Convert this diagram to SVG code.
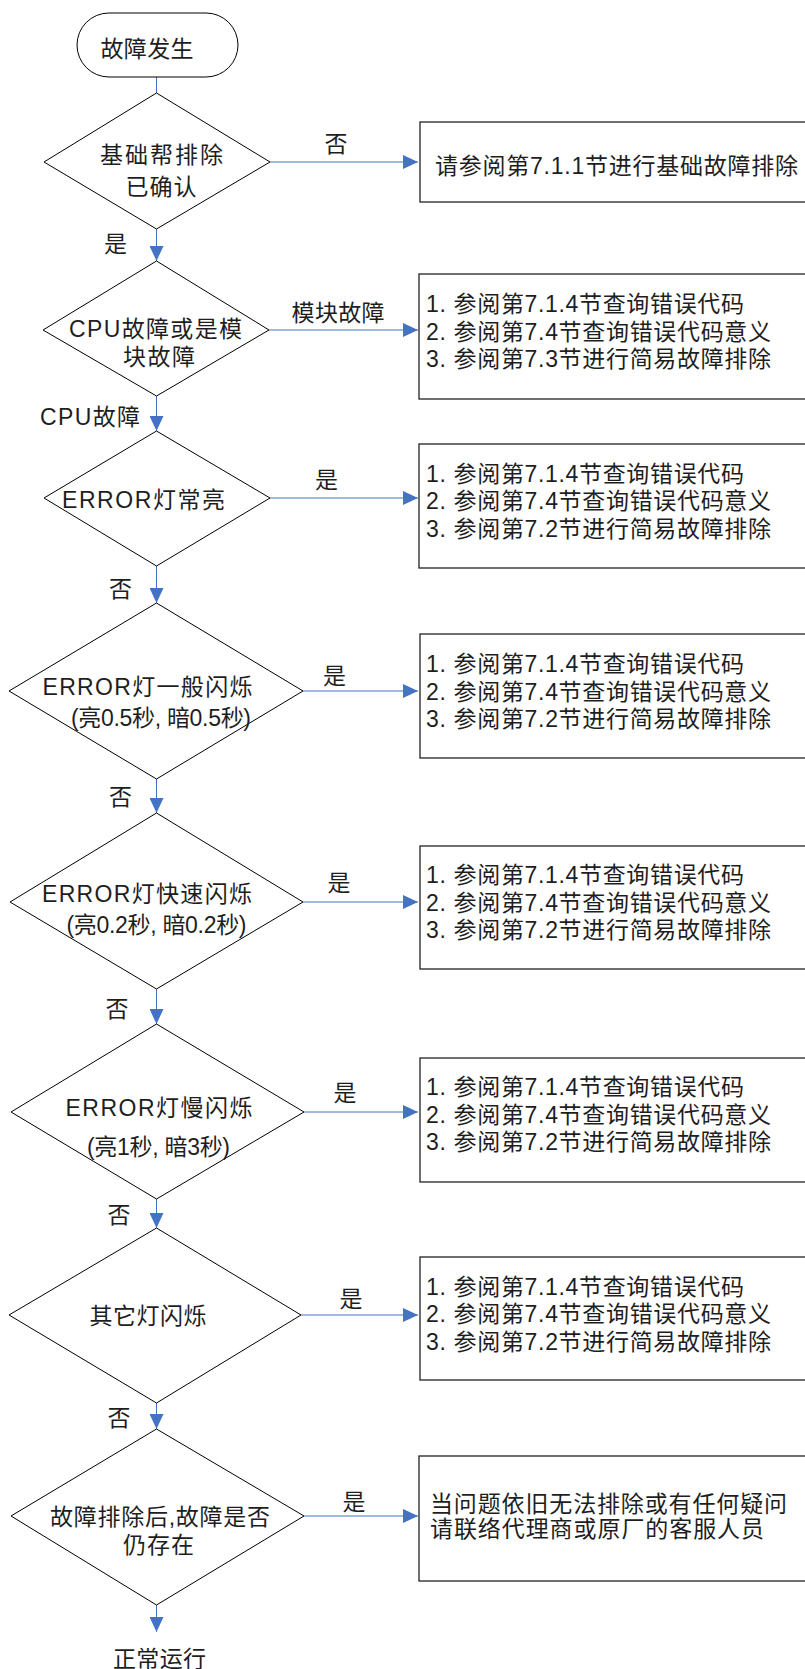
<svg xmlns="http://www.w3.org/2000/svg" width="805" height="1669" viewBox="0 0 805 1669">
<style>
text{font-family:"Liberation Sans","Noto Sans CJK SC",sans-serif;font-size:23px;fill:#1e1e1e}
.c{text-anchor:middle}
.d{fill:#fff;stroke:#000;stroke-width:1}
.b{fill:#fff;stroke:#222;stroke-width:1.3}
.ln{stroke:#4472C4;stroke-width:1;fill:none}
</style>
<defs>
<marker id="ah" viewBox="0 0 15 14" refX="15" refY="7" markerWidth="15" markerHeight="14" markerUnits="userSpaceOnUse" orient="auto">
<path d="M0,0 L15,7 L0,14 z" fill="#4472C4"/>
</marker>
</defs>
<g id="connectors">
<path class="ln" d="M156.5,77 V93"/>
<path class="ln" d="M156.5,229 V261" marker-end="url(#ah)"/>
<path class="ln" d="M156.5,396 V431" marker-end="url(#ah)"/>
<path class="ln" d="M156.5,566 V603" marker-end="url(#ah)"/>
<path class="ln" d="M156.5,779 V813" marker-end="url(#ah)"/>
<path class="ln" d="M156.5,989 V1024" marker-end="url(#ah)"/>
<path class="ln" d="M156.5,1199 V1228" marker-end="url(#ah)"/>
<path class="ln" d="M156.5,1403 V1429" marker-end="url(#ah)"/>
<path class="ln" d="M156.5,1605 V1632" marker-end="url(#ah)"/>
<path class="ln" d="M270,162 H418" marker-end="url(#ah)"/>
<path class="ln" d="M269,330 H418" marker-end="url(#ah)"/>
<path class="ln" d="M270,498 H418" marker-end="url(#ah)"/>
<path class="ln" d="M303,691 H418" marker-end="url(#ah)"/>
<path class="ln" d="M303,902 H418" marker-end="url(#ah)"/>
<path class="ln" d="M304,1112 H418" marker-end="url(#ah)"/>
<path class="ln" d="M301,1315 H418" marker-end="url(#ah)"/>
<path class="ln" d="M304,1516 H418" marker-end="url(#ah)"/>
<text class="c" x="336" y="151.5">否</text>
<text class="c" x="115.5" y="251.5">是</text>
<text x="291.6" y="321" textLength="93" lengthAdjust="spacing">模块故障</text>
<text x="40" y="425" textLength="100" lengthAdjust="spacing">CPU故障</text>
<text class="c" x="326.5" y="488">是</text>
<text class="c" x="120.5" y="597">否</text>
<text class="c" x="334.5" y="684">是</text>
<text class="c" x="120.5" y="805">否</text>
<text class="c" x="339" y="891">是</text>
<text class="c" x="117" y="1017">否</text>
<text class="c" x="345" y="1101">是</text>
<text class="c" x="119" y="1223">否</text>
<text class="c" x="351" y="1307">是</text>
<text class="c" x="119" y="1426">否</text>
<text class="c" x="354" y="1510">是</text>
</g>
<g id="start">
<rect x="77" y="13" width="161" height="64" rx="32" ry="32" class="d"/>
<text x="100.5" y="56.5" textLength="93" lengthAdjust="spacing">故障发生</text>
</g>
<g id="d1">
<polygon class="d" points="156.5,93 270,162 156.5,229 44,162"/>
<text x="100" y="163" textLength="123" lengthAdjust="spacing">基础帮排除</text>
<text x="125.5" y="194.5" textLength="71" lengthAdjust="spacing">已确认</text>
</g>
<g id="b1">
<rect class="b" x="420" y="122" width="390" height="80"/>
<text x="435" y="174" textLength="363" lengthAdjust="spacing">请参阅第7.1.1节进行基础故障排除</text>
</g>
<g id="d2">
<polygon class="d" points="156.5,261 269,330 156.5,396 43,330"/>
<text x="69" y="337" textLength="173" lengthAdjust="spacing">CPU故障或是模</text>
<text x="123" y="365" textLength="72" lengthAdjust="spacing">块故障</text>
</g>
<g id="b2">
<rect class="b" x="419" y="274" width="391" height="125"/>
<text x="426" y="312" textLength="318" lengthAdjust="spacing">1. 参阅第7.1.4节查询错误代码</text>
<text x="426" y="339.5" textLength="345" lengthAdjust="spacing">2. 参阅第7.4节查询错误代码意义</text>
<text x="426" y="367" textLength="345" lengthAdjust="spacing">3. 参阅第7.3节进行简易故障排除</text>
</g>
<g id="d3">
<polygon class="d" points="156.5,431 270,498 156.5,566 44,498"/>
<text x="62" y="508" textLength="163" lengthAdjust="spacing">ERROR灯常亮</text>
</g>
<g id="b3">
<rect class="b" x="419" y="444" width="391" height="124"/>
<text x="426" y="482" textLength="318" lengthAdjust="spacing">1. 参阅第7.1.4节查询错误代码</text>
<text x="426" y="509" textLength="345" lengthAdjust="spacing">2. 参阅第7.4节查询错误代码意义</text>
<text x="426" y="536.5" textLength="345" lengthAdjust="spacing">3. 参阅第7.2节进行简易故障排除</text>
</g>
<g id="d4">
<polygon class="d" points="156.5,603 303,691 156.5,779 9,691"/>
<text x="42.5" y="695" textLength="210" lengthAdjust="spacing">ERROR灯一般闪烁</text>
<text x="71" y="726" textLength="180" lengthAdjust="spacing">(亮0.5秒, 暗0.5秒)</text>
</g>
<g id="b4">
<rect class="b" x="420" y="634" width="390" height="124"/>
<text x="426" y="672" textLength="318" lengthAdjust="spacing">1. 参阅第7.1.4节查询错误代码</text>
<text x="426" y="699.5" textLength="345" lengthAdjust="spacing">2. 参阅第7.4节查询错误代码意义</text>
<text x="426" y="726.5" textLength="345" lengthAdjust="spacing">3. 参阅第7.2节进行简易故障排除</text>
</g>
<g id="d5">
<polygon class="d" points="156.5,813 303,902 156.5,989 10,902"/>
<text x="42" y="902" textLength="210" lengthAdjust="spacing">ERROR灯快速闪烁</text>
<text x="66.5" y="933" textLength="180" lengthAdjust="spacing">(亮0.2秒, 暗0.2秒)</text>
</g>
<g id="b5">
<rect class="b" x="420" y="846" width="390" height="123"/>
<text x="426" y="883" textLength="318" lengthAdjust="spacing">1. 参阅第7.1.4节查询错误代码</text>
<text x="426" y="911" textLength="345" lengthAdjust="spacing">2. 参阅第7.4节查询错误代码意义</text>
<text x="426" y="938" textLength="345" lengthAdjust="spacing">3. 参阅第7.2节进行简易故障排除</text>
</g>
<g id="d6">
<polygon class="d" points="156.5,1024 304,1112 156.5,1199 11,1112"/>
<text x="65.5" y="1116" textLength="187" lengthAdjust="spacing">ERROR灯慢闪烁</text>
<text x="87" y="1155" textLength="143" lengthAdjust="spacing">(亮1秒, 暗3秒)</text>
</g>
<g id="b6">
<rect class="b" x="420" y="1058" width="390" height="124"/>
<text x="426" y="1095" textLength="318" lengthAdjust="spacing">1. 参阅第7.1.4节查询错误代码</text>
<text x="426" y="1123" textLength="345" lengthAdjust="spacing">2. 参阅第7.4节查询错误代码意义</text>
<text x="426" y="1150" textLength="345" lengthAdjust="spacing">3. 参阅第7.2节进行简易故障排除</text>
</g>
<g id="d7">
<polygon class="d" points="156.5,1228 301,1315 156.5,1403 9,1315"/>
<text x="89.5" y="1324" textLength="117" lengthAdjust="spacing">其它灯闪烁</text>
</g>
<g id="b7">
<rect class="b" x="420" y="1257" width="390" height="123"/>
<text x="426" y="1295" textLength="318" lengthAdjust="spacing">1. 参阅第7.1.4节查询错误代码</text>
<text x="426" y="1322" textLength="345" lengthAdjust="spacing">2. 参阅第7.4节查询错误代码意义</text>
<text x="426" y="1350" textLength="345" lengthAdjust="spacing">3. 参阅第7.2节进行简易故障排除</text>
</g>
<g id="d8">
<polygon class="d" points="156.5,1429 304,1516 156.5,1605 11,1516"/>
<text x="50" y="1525" textLength="220" lengthAdjust="spacing">故障排除后,故障是否</text>
<text x="123" y="1553" textLength="71" lengthAdjust="spacing">仍存在</text>
</g>
<g id="b8">
<rect class="b" x="419" y="1456" width="391" height="125"/>
<text x="430" y="1512" textLength="357" lengthAdjust="spacing">当问题依旧无法排除或有任何疑问</text>
<text x="430" y="1537" textLength="334" lengthAdjust="spacing">请联络代理商或原厂的客服人员</text>
</g>
<g id="end">
<text x="113" y="1667" textLength="93" lengthAdjust="spacing">正常运行</text>
</g>
</svg>
